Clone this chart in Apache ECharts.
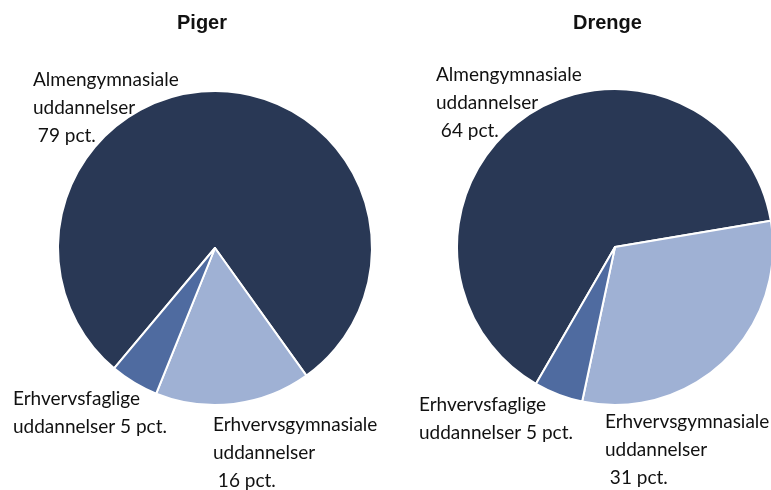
<!DOCTYPE html>
<html>
<head>
    <meta charset="utf-8">
    <title>Piger og drenge</title>
    <style>
        html, body { margin: 0; padding: 0; background: #fff; }
        #main { width: 771px; height: 490px; }
    </style>
</head>
<body>
<div id="main"></div>
<script src="https://cdn.jsdelivr.net/npm/echarts@6/dist/echarts.min.js"></script>
<script>
    // data
    const groups = ['Piger', 'Drenge'];
    const categories = ['Almengymnasiale', 'Erhvervsgymnasiale', 'Erhvervsfaglige'];
    const pigerValues = [79, 16, 5];
    const drengeValues = [64, 31, 5];
    const colors = ['#293855', '#9fb1d4', '#4f6ba0'];

    // label positions (top-left of each text block), per pie
    const labelPos = [
        [[33, 66], [213, 411], [13, 385]],
        [[436, 61], [605, 408], [419, 391]]
    ];

    const fmt = function (p) {
        if (p.dataIndex === 2) {
            return p.name + '\nuddannelser ' + p.value + ' pct.';
        }
        return p.name + '\nuddannelser\n ' + p.value + ' pct.';
    };

    const makeSeries = function (idx, values, center, r, startAngle) {
        return {
            type: 'pie',
            name: groups[idx],
            center: center,
            radius: r,
            startAngle: startAngle,
            clockwise: true,
            silent: true,
            itemStyle: { borderColor: '#fff', borderWidth: 2 },
            label: {
                show: true,
                formatter: fmt,
                overflow: 'none',
                fontFamily: 'Lato, "Liberation Sans", sans-serif',
                fontSize: 19,
                lineHeight: 28,
                color: '#111'
            },
            labelLine: { show: false },
            labelLayout: function (params) {
                const pos = labelPos[idx][params.dataIndex];
                return { x: pos[0], y: pos[1], align: 'left', verticalAlign: 'top' };
            },
            data: categories.map(function (c, i) {
                return { name: c, value: values[i], itemStyle: { color: colors[i] } };
            })
        };
    };

    const titleStyle = { fontFamily: '"Liberation Sans", sans-serif', fontSize: 20, fontWeight: 'bold', color: '#111' };

    const myChart = echarts.init(document.getElementById('main'));
    myChart.setOption({
        animation: false,
        title: [
            { text: groups[0], left: 177, top: 13, padding: 0, textStyle: titleStyle },
            { text: groups[1], left: 573, top: 13, padding: 0, textStyle: titleStyle }
        ],
        series: [
            makeSeries(0, pigerValues, [215, 248], 157, 230),
            makeSeries(1, drengeValues, [615, 247], 158, 240)
        ]
    });
</script>
</body>
</html>
